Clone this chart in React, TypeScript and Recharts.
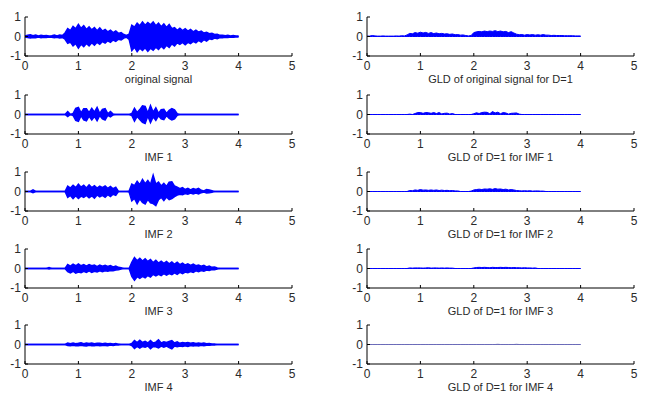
import React from 'react';
import { ComposedChart, Area, XAxis, YAxis, Label } from 'recharts';

// sample times 0 .. 4 s, step 0.05
const TIME: number[] = Array.from({ length: 81 }, (_, i) => Math.round(i * 5) / 100);
const X_TICKS = [0, 1, 2, 3, 4, 5];
const Y_TICKS = [-1, 0, 1];

const ORIG_HI = [0.03,0.06,0.09,0.04,0.07,0.03,0.06,0.04,0.05,0.03, 0.04,0.07,0.03,0.08,0.05,0.18,0.4,0.3,0.52,0.4, 0.62,0.42,0.56,0.36,0.5,0.34,0.46,0.3,0.44,0.28, 0.36,0.24,0.32,0.2,0.28,0.16,0.2,0.1,0.05,0.12, 0.58,0.48,0.68,0.55,0.74,0.58,0.72,0.6,0.75,0.55, 0.68,0.5,0.65,0.46,0.62,0.4,0.45,0.32,0.42,0.3, 0.4,0.28,0.36,0.24,0.32,0.22,0.28,0.18,0.22,0.14, 0.16,0.1,0.12,0.06,0.07,0.04,0.06,0.03,0.05,0.03, 0.02];
const ORIG_LO = [-0.03,-0.05,-0.08,-0.05,-0.06,-0.03,-0.06,-0.04,-0.05,-0.03, -0.04,-0.06,-0.04,-0.07,-0.05,-0.14,-0.35,-0.28,-0.48,-0.36, -0.6,-0.4,-0.52,-0.36,-0.48,-0.32,-0.45,-0.3,-0.4,-0.26, -0.34,-0.22,-0.3,-0.18,-0.25,-0.14,-0.18,-0.08,-0.04,-0.15, -0.72,-0.55,-0.78,-0.6,-0.72,-0.58,-0.76,-0.6,-0.7,-0.55, -0.66,-0.5,-0.62,-0.45,-0.56,-0.38,-0.48,-0.32,-0.4,-0.3, -0.42,-0.3,-0.36,-0.25,-0.32,-0.2,-0.28,-0.16,-0.24,-0.12, -0.15,-0.08,-0.11,-0.05,-0.06,-0.04,-0.05,-0.03,-0.04,-0.03, -0.02];

const IMF1_HI = [0,0,0,0,0,0,0,0,0,0, 0,0,0,0,0,0,0.15,0,0.05,0.32, 0.36,0.08,0.3,0.3,0.1,0.32,0.12,0.36,0.05,0.26, 0.3,0.04,0.15,0.02,0,0,0,0,0,0, 0.05,0.32,0.1,0.25,0.44,0.42,0.08,0.46,0.12,0.34, 0.06,0.24,0.26,0.05,0.22,0.3,0.24,0.04,0,0, 0,0,0,0,0,0,0,0,0,0, 0,0,0,0,0,0,0,0,0,0, 0];
const IMF1_LO = [0,0,0,0,0,0,0,0,0,0, 0,0,0,0,0,0,-0.1,0,-0.05,-0.3, -0.35,-0.06,-0.28,-0.32,-0.08,-0.28,-0.1,-0.32,-0.05,-0.22, -0.28,-0.04,-0.12,-0.02,0,0,0,0,0,0, -0.05,-0.34,-0.1,-0.26,-0.4,-0.46,-0.08,-0.42,-0.12,-0.3, -0.06,-0.22,-0.26,-0.05,-0.2,-0.28,-0.22,-0.04,0,0, 0,0,0,0,0,0,0,0,0,0, 0,0,0,0,0,0,0,0,0,0, 0];

const IMF2_HI = [0,0,0,0.08,0,0,0,0,0,0, 0,0,0,0,0,0,0.28,0.18,0.32,0.2, 0.38,0.22,0.32,0.18,0.34,0.2,0.3,0.18,0.28,0.2, 0.28,0.16,0.26,0.14,0.22,0,0,0,0,0.03, 0.38,0.3,0.52,0.35,0.62,0.4,0.56,0.36,0.84,0.38, 0.48,0.28,0.42,0.26,0.48,0.5,0.28,0.22,0.14,0.2, 0.1,0.16,0.08,0.15,0.1,0.16,0.06,0.03,0.1,0.08, 0.04,0,0,0,0,0,0,0,0,0, 0];
const IMF2_LO = [0,0,0,-0.06,0,0,0,0,0,0, 0,0,0,0,0,0,-0.3,-0.2,-0.36,-0.22, -0.36,-0.24,-0.3,-0.2,-0.32,-0.22,-0.34,-0.18,-0.28,-0.2, -0.3,-0.16,-0.26,-0.14,-0.2,0,0,0,0,-0.03, -0.48,-0.35,-0.62,-0.38,-0.56,-0.64,-0.4,-0.58,-0.62,-0.72, -0.42,-0.3,-0.46,-0.28,-0.42,-0.36,-0.26,-0.18,-0.14,-0.16, -0.1,-0.14,-0.08,-0.13,-0.08,-0.12,-0.06,-0.03,-0.08,-0.07, -0.04,0,0,0,0,0,0,0,0,0, 0];

const IMF3_HI = [0,0,0,0,0,0,0,0,0,0.05, 0,0,0,0,0,0,0.2,0.12,0.22,0.14, 0.24,0.14,0.2,0.12,0.2,0.14,0.18,0.1,0.18,0.12, 0.16,0.1,0.15,0.08,0.12,0.06,0.04,0,0,0, 0.32,0.56,0.4,0.52,0.38,0.5,0.36,0.46,0.3,0.42, 0.28,0.38,0.26,0.36,0.24,0.34,0.22,0.32,0.2,0.28, 0.18,0.24,0.16,0.22,0.14,0.18,0.12,0.16,0.08,0.12, 0.06,0.08,0.03,0,0,0,0,0,0,0, 0];
const IMF3_LO = [0,0,0,0,0,0,0,0,0,-0.03, 0,0,0,0,0,0,-0.16,-0.22,-0.14,-0.24, -0.18,-0.22,-0.14,-0.2,-0.12,-0.2,-0.14,-0.18,-0.12,-0.16, -0.12,-0.14,-0.1,-0.12,-0.08,-0.06,-0.03,0,0,0, -0.4,-0.6,-0.42,-0.5,-0.4,-0.48,-0.36,-0.44,-0.3,-0.38, -0.3,-0.36,-0.26,-0.34,-0.26,-0.32,-0.22,-0.3,-0.2,-0.26, -0.18,-0.22,-0.16,-0.2,-0.12,-0.16,-0.1,-0.14,-0.08,-0.1, -0.05,-0.06,-0.03,0,0,0,0,0,0,0, 0];

const IMF4_HI = [0,0,0,0,0,0,0,0,0,0, 0,0,0,0,0,0,0.07,0.04,0.07,0.04, 0.06,0.09,0.04,0.07,0.05,0.08,0.04,0.06,0.07,0.04, 0.06,0.04,0.05,0.03,0.05,0.02,0,0,0,0, 0.05,0.2,0.1,0.22,0.1,0.16,0.08,0.2,0.08,0.12, 0.24,0.08,0.14,0.1,0.15,0.2,0.08,0.14,0.06,0.1, 0.08,0.1,0.06,0.09,0.05,0.08,0.05,0.07,0.04,0.05, 0.03,0.02,0,0,0,0,0,0,0,0, 0];
const IMF4_LO = [0,0,0,0,0,0,0,0,0,0, 0,0,0,0,0,0,-0.05,-0.06,-0.04,-0.07, -0.07,-0.04,-0.06,-0.08,-0.04,-0.06,-0.07,-0.04,-0.06,-0.05, -0.05,-0.06,-0.03,-0.05,-0.03,-0.02,0,0,0,0, -0.05,-0.2,-0.1,-0.18,-0.1,-0.14,-0.08,-0.22,-0.1,-0.12, -0.18,-0.08,-0.14,-0.08,-0.16,-0.22,-0.08,-0.12,-0.08,-0.1, -0.06,-0.1,-0.05,-0.08,-0.05,-0.07,-0.04,-0.06,-0.04,-0.04, -0.03,-0.02,0,0,0,0,0,0,0,0, 0];

const GLD_ORIG_HI = [0.02,0.02,0.05,0.03,0.02,0.02,0.03,0.02,0.02,0.02, 0.02,0.03,0.02,0.04,0.03,0.08,0.16,0.14,0.2,0.17, 0.22,0.18,0.21,0.16,0.2,0.15,0.18,0.14,0.16,0.13, 0.14,0.11,0.13,0.09,0.1,0.07,0.08,0.05,0.03,0.05, 0.2,0.24,0.26,0.24,0.28,0.25,0.28,0.26,0.3,0.25, 0.28,0.24,0.26,0.2,0.25,0.18,0.12,0.09,0.1,0.07, 0.1,0.08,0.1,0.07,0.09,0.07,0.1,0.07,0.07,0.05, 0.06,0.05,0.05,0.05,0.04,0.04,0.04,0.04,0.03,0.03, 0.03];
const GLD_IMF1_HI = [0,0,0,0,0,0,0,0,0,0, 0,0,0,0,0,0,0.02,0,0.05,0.1, 0.1,0.06,0.1,0.09,0.06,0.1,0.05,0.1,0.03,0.06, 0.07,0.02,0.05,0,0,0,0,0,0,0, 0.04,0.09,0.05,0.1,0.12,0.11,0.04,0.15,0.08,0.12, 0.04,0.1,0.08,0.02,0.06,0.07,0.08,0.02,0,0, 0,0,0,0,0,0,0,0,0,0, 0,0,0,0,0,0,0,0,0,0, 0];
const GLD_IMF2_HI = [0,0,0,0,0,0,0,0,0,0, 0,0,0,0,0,0,0.05,0.04,0.08,0.06, 0.1,0.07,0.08,0.06,0.08,0.06,0.08,0.05,0.07,0.05, 0.06,0.04,0.05,0.03,0.03,0,0,0,0,0.02, 0.08,0.1,0.12,0.1,0.13,0.12,0.14,0.11,0.15,0.12, 0.13,0.1,0.12,0.08,0.1,0.08,0.05,0.04,0.03,0.04, 0.03,0.04,0.02,0.03,0.03,0.02,0.02,0,0,0, 0,0,0,0,0,0,0,0,0,0, 0];
const GLD_IMF3_HI = [0,0,0,0,0,0,0,0,0,0, 0,0,0,0,0,0,0.03,0.02,0.03,0.03, 0.03,0.02,0.03,0.04,0.02,0.03,0.03,0.02,0.03,0.02, 0.03,0.02,0.02,0,0,0,0,0,0,0, 0.03,0.05,0.06,0.05,0.06,0.05,0.04,0.06,0.05,0.05, 0.06,0.05,0.06,0.05,0.04,0.05,0.04,0.04,0.03,0.04, 0.03,0.03,0.02,0.03,0,0,0,0,0,0, 0,0,0,0,0,0,0,0,0,0, 0];
const GLD_IMF4_HI = [0,0,0,0,0,0,0,0,0,0, 0,0,0,0,0,0,0,0,0,0, 0,0,0,0,0,0,0,0,0,0, 0,0,0,0,0,0,0,0,0,0, 0,0,0,0,0,0,0,0,0,0.01, 0,0,0,0,0,0,0.01,0,0,0, 0,0,0,0,0,0,0,0,0,0, 0,0,0,0,0,0,0,0,0,0, 0];
const GLD_LO = TIME.map(() => 0);

const LEFT_TITLES = ['original signal', 'IMF 1', 'IMF 2', 'IMF 3', 'IMF 4'];
const RIGHT_TITLES = ['GLD of original signal for D=1', 'GLD of D=1 for IMF 1', 'GLD of D=1 for IMF 2', 'GLD of D=1 for IMF 3', 'GLD of D=1 for IMF 4'];

const LEFT_SERIES = [[ORIG_LO, ORIG_HI], [IMF1_LO, IMF1_HI], [IMF2_LO, IMF2_HI], [IMF3_LO, IMF3_HI], [IMF4_LO, IMF4_HI]];
const RIGHT_SERIES = [GLD_ORIG_HI, GLD_IMF1_HI, GLD_IMF2_HI, GLD_IMF3_HI, GLD_IMF4_HI];

// layout
const FONT = '"Liberation Sans", Arial, Helvetica, sans-serif';
const TICK_FONT = 12;
const CAPTION_FONT = 11;
const TEXT_COLOR = '#2a2a2a';
const PLOT_W = 267;
const PLOT_H = 39;
const Y_AXIS_W = 24;
const TOP_M = 8;
const RIGHT_M = 12;
const X_AXIS_H = 27;
const BOTTOM_M = 3;
const TICK_LEN = 3;
const X_GAP = 5;
const Y_GAP = 4;
const COL_X = [25, 367];
const ROW_Y = [17, 95, 172, 249, 325];

const BottomTick = (props: any) => {
  const { x, y, payload } = props;
  const axisY = y - X_GAP;
  return (
    <g>
      <line x1={x} y1={axisY} x2={x} y2={axisY - TICK_LEN} stroke="#000" strokeWidth={1} />
      <text x={x} y={y} dy="0.71em" textAnchor="middle" fontSize={TICK_FONT} fontFamily={FONT} fill={TEXT_COLOR}>{payload.value}</text>
    </g>
  );
};
const LeftTick = (props: any) => {
  const { x, y, payload } = props;
  const axisX = x + Y_GAP;
  return (
    <g>
      <line x1={axisX} y1={y} x2={axisX + TICK_LEN} y2={y} stroke="#000" strokeWidth={1} />
      <text x={x} y={y} dy="0.35em" textAnchor="end" fontSize={TICK_FONT} fontFamily={FONT} fill={TEXT_COLOR}>{payload.value}</text>
    </g>
  );
};
const TopTick = (props: any) => {
  const { x, y } = props;
  return <line x1={x} y1={y} x2={x} y2={y + TICK_LEN} stroke="#000" strokeWidth={1} />;
};
const RightTick = (props: any) => {
  const { x, y } = props;
  return <line x1={x} y1={y} x2={x - TICK_LEN} y2={y} stroke="#000" strokeWidth={1} />;
};

type PanelProps = { title: string; lo: number[]; hi: number[]; color: string; strokeWidth: number; left: number; top: number };

const Panel = ({ title, lo, hi, color, strokeWidth, left, top }: PanelProps) => {
  const data = TIME.map((t, i) => ({ t, band: [lo[i], hi[i]] }));
  const w = Y_AXIS_W + PLOT_W + RIGHT_M;
  const h = TOP_M + PLOT_H + X_AXIS_H + BOTTOM_M;
  return (
    <div style={{ position: 'absolute', left: left - Y_AXIS_W, top: top - TOP_M, width: w, height: h }}>
      <ComposedChart width={w} height={h} data={data} margin={{ top: TOP_M, right: RIGHT_M, bottom: BOTTOM_M, left: 0 }}>
        <XAxis dataKey="t" type="number" domain={[0, 5]} ticks={X_TICKS} interval={0} height={X_AXIS_H}
          tickSize={0} tickMargin={X_GAP} tick={BottomTick} tickLine={false} axisLine={{ stroke: '#000' }}>
          <Label value={title} position="insideBottom" offset={0} style={{ fontSize: CAPTION_FONT, fontFamily: FONT, fill: TEXT_COLOR }} />
        </XAxis>
        <XAxis xAxisId="top" orientation="top" dataKey="t" type="number" domain={[0, 5]} ticks={X_TICKS} interval={0} height={0}
          tickSize={0} tickMargin={0} tick={TopTick} tickLine={false} axisLine={{ stroke: '#000' }} />
        <YAxis type="number" domain={[-1, 1]} ticks={Y_TICKS} interval={0} width={Y_AXIS_W}
          tickSize={0} tickMargin={Y_GAP} tick={LeftTick} tickLine={false} axisLine={{ stroke: '#000' }} />
        <YAxis yAxisId="right" orientation="right" type="number" domain={[-1, 1]} ticks={Y_TICKS} interval={0} width={0}
          tickSize={0} tickMargin={0} tick={RightTick} tickLine={false} axisLine={{ stroke: '#000' }} />
        <Area type="linear" dataKey="band" stroke={color} strokeWidth={strokeWidth} fill={color} fillOpacity={1}
          isAnimationActive={false} dot={false} activeDot={false} />
      </ComposedChart>
    </div>
  );
};

export default function App() {
  return (
    <div style={{ position: 'absolute', left: 0, top: 0, width: 647, height: 394, background: '#fff', overflow: 'hidden' }}>
      {LEFT_TITLES.map((title, r) => (
        <Panel key={'l' + r} title={title} lo={LEFT_SERIES[r][0]} hi={LEFT_SERIES[r][1]} color="#0000ff" strokeWidth={1.5}
          left={COL_X[0]} top={ROW_Y[r]} />
      ))}
      {RIGHT_TITLES.map((title, r) => (
        <Panel key={'r' + r} title={title} lo={GLD_LO} hi={RIGHT_SERIES[r]} color={r === 4 ? '#6b6bb8' : '#0000ff'} strokeWidth={1}
          left={COL_X[1]} top={ROW_Y[r]} />
      ))}
    </div>
  );
}
